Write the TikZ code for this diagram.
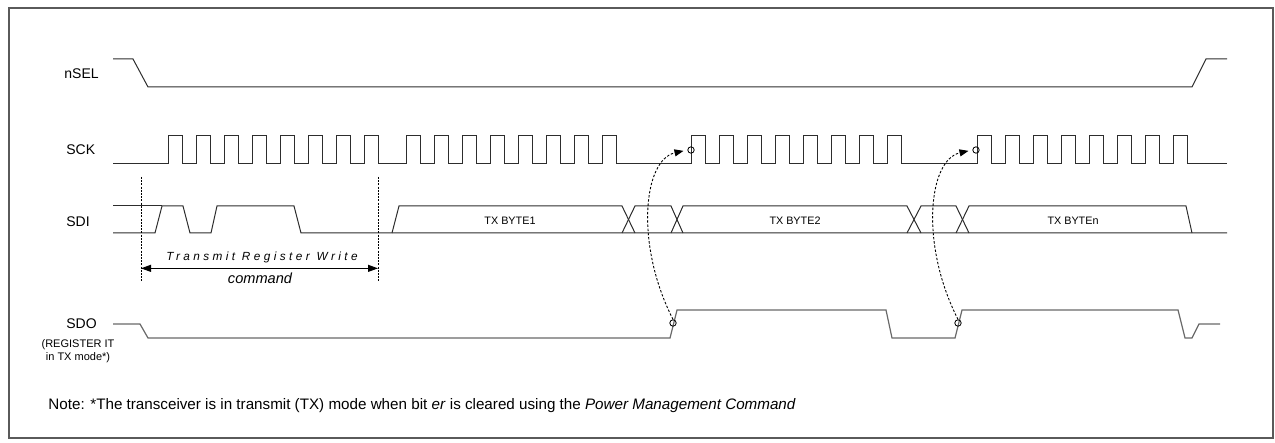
\documentclass[tikz,border=0pt]{standalone}
\usepackage{fontspec}
\setmainfont{Liberation Sans}
\usepackage{tikz}
\usetikzlibrary{arrows.meta,calc}
\definecolor{framecolor}{RGB}{90,90,90}
\definecolor{wavecolor}{RGB}{45,45,45}
\definecolor{sdocolor}{RGB}{105,105,105}

\begin{document}
\begin{tikzpicture}[x=0.5pt, y=-0.5pt,
  wave/.style={draw=wavecolor, line width=0.5pt},
  lbl/.style={font=\fontsize{7}{8}\selectfont, anchor=west, inner sep=0pt},
  bytelbl/.style={font=\fontsize{5.4}{6}\selectfont, inner sep=0pt},
  guide/.style={draw, line width=0.45pt, dash pattern=on 1pt off 0.6pt},
  sync/.style={draw, line width=0.45pt, dash pattern=on 1.2pt off 0.9pt, -{Triangle[length=4.5pt,width=3.5pt]}, shorten >=2pt},
  ring/.style={circle, draw, line width=0.4pt, minimum size=3.2pt, inner sep=0pt},
]
\useasboundingbox (0,0) rectangle (1275,443);
\draw[framecolor, line width=0.6pt] (9,8) rectangle (1273,438);

% Signal names
\node[lbl] (nsel) at (64,74) {nSEL};
\node[lbl] (sck) at (66,150) {SCK};
\node[lbl] (sdi) at (66,222) {SDI};
\node[lbl] (sdo) at (66,324) {SDO};
\node[font=\fontsize{5.5}{6.5}\selectfont, align=center, inner sep=0pt] (sdonote) at (78,351) {(REGISTER IT\\in TX mode*)};

% nSEL
\draw[wave] (113,59) -- (133,59) -- (148,87) -- (1192,87) -- (1206,59) -- (1227,59);

% SCK, four bytes of eight clocks
\draw[wave] (113,164)
  \foreach \s in {168,406,691,977}{
    \foreach \k in {0,...,7}{ -- ({\s+28*\k},164) -- ++(0,-28) -- ++(14,0) -- ++(0,28) }
  } -- (1227,164);

% SDI, command bits
\draw[wave] (113,206) -- (162,206);
\draw[wave] (113,233) -- (155,233) -- (162,206) -- (183,206) -- (190,233) -- (211,233) -- (217,206) -- (294,206) -- (301,233) -- (1227,233);
% SDI, data bytes
\draw[wave] (392,233) -- (399,206) -- (622,206) -- (635,233);
\draw[wave] (622,233) -- (635,206) -- (671,206) -- (683,233);
\draw[wave] (671,233) -- (683,206) -- (907,206) -- (921,233);
\draw[wave] (907,233) -- (921,206) -- (956,206) -- (969,233);
\draw[wave] (956,233) -- (969,206) -- (1186,206) -- (1192,233);
\node[bytelbl] (byte1) at (510,221) {TX BYTE1};
\node[bytelbl] (byte2) at (795,221) {TX BYTE2};
\node[bytelbl] (byten) at (1073,221) {TX BYTEn};

% Command span
\coordinate (g1t) at (141,177);
\coordinate (g1b) at (141,282);
\coordinate (g2t) at (378,177);
\coordinate (g2b) at (378,282);
\draw[guide] (g1t) -- (g1b);
\draw[guide] (g2t) -- (g2b);
\draw[line width=0.5pt, {Triangle[length=5pt,width=3.5pt]}-{Triangle[length=5pt,width=3.5pt]}] ($(g1t)!0.87!(g1b)$) -- ($(g2t)!0.87!(g2b)$);
\node[font=\fontsize{5.9}{7}\selectfont\itshape\addfontfeature{LetterSpace=29}, inner sep=0pt] (trw) at (262,257) {Transmit Register Write};
\node[font=\fontsize{7.3}{8}\selectfont\itshape, inner sep=0pt] (cmd) at (260,278) {command};

% SDO
\draw[draw=sdocolor, line width=0.6pt] (113,324) -- (140,324) -- (148,338) -- (670,338) -- (677,310) -- (886,310) -- (892,338) -- (955,338) -- (962,310) -- (1178,310) -- (1185,338) -- (1192,338) -- (1199,324) -- (1220,324);

% SDO edge starts next SCK byte
\node[ring] (o1) at (673,323) {};
\node[ring] (o2) at (958,323) {};
\node[ring] (s1) at (691,150) {};
\node[ring] (s2) at (976,150) {};
\draw[sync] (o1.north) .. controls (635,245) and (643,160) .. (s1.west);
\draw[sync] (o2.north) .. controls (920,245) and (928,160) .. (s2.west);

% Note
\node[lbl, font=\fontsize{7.6}{9}\selectfont] (note) at (48,406) {Note: *The transceiver is in transmit (TX) mode when bit \textit{er} is cleared using the \textit{Power Management Command}};
\end{tikzpicture}
\end{document}
